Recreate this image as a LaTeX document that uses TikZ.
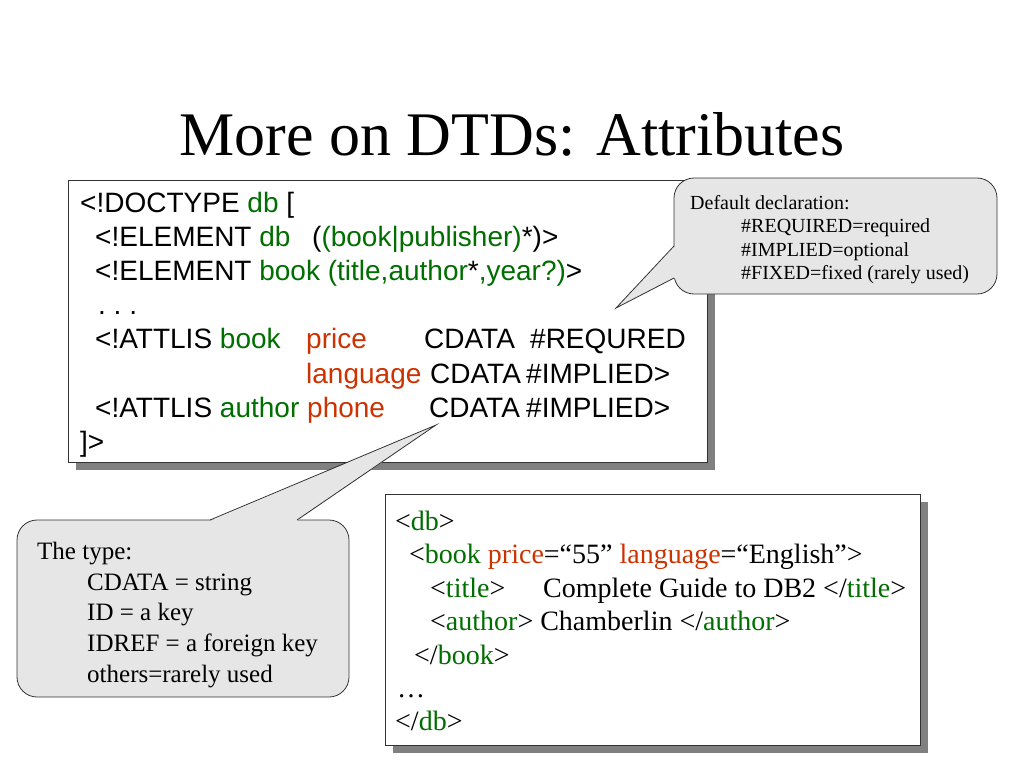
\documentclass[tikz,border=0pt]{standalone}
\usepackage{fontspec}
\setmainfont{Liberation Serif}
\newfontfamily\codefont{Liberation Sans}
\usetikzlibrary{shadows}
\definecolor{dtdgreen}{RGB}{0,110,0}
\definecolor{dtdred}{RGB}{204,51,0}
\definecolor{bubble}{RGB}{230,230,230}
\newcommand\grn[1]{\textcolor{dtdgreen}{#1}}
\newcommand\orn[1]{\textcolor{dtdred}{#1}}

\begin{document}
\begin{tikzpicture}[x=1pt,y=-1pt,
		codebox/.style={draw=black!80,line width=0.8pt,fill=white,
			drop shadow={shadow xshift=8pt,shadow yshift=-8pt,fill=black!50,opacity=1}},
		bubbleshape/.style={draw=black!80,line width=0.8pt,fill=bubble,rounded corners=20pt},
		dtd/.style={anchor=base west,inner sep=0pt,font=\codefont\fontsize{28}{34}\selectfont},
		xml/.style={anchor=base west,inner sep=0pt,font=\fontsize{28}{33}\selectfont},
		defnote/.style={anchor=base west,inner sep=0pt,font=\fontsize{20}{24}\selectfont},
		typenote/.style={anchor=base west,inner sep=0pt,font=\fontsize{25}{30}\selectfont}]
			\useasboundingbox (0,0) rectangle (1024,768);

			% titre
			\node[anchor=base,inner sep=0pt,font=\fontsize{62}{70}\selectfont] (title) at (512,155) {More on DTDs: Attributes};

			% DTD
			\path[codebox] (68,180) rectangle (707,462);
			\node[dtd] (doctype) at (80,212) {<!DOCTYPE \grn{db} [};
			\node[dtd] (eldb) at (95,246) {<!ELEMENT \grn{db}};
			\node[dtd] (eldbcont) at (312,246) {(\grn{(book|publisher)}*)>};
			\node[dtd] (elbook) at (95,280) {<!ELEMENT \grn{book} \grn{(title,author}*\grn{,year?)}>};
			\node[dtd] (dots) at (98,314) {.\ .\ .};
			\node[dtd] (attbook) at (95,348) {<!ATTLIS \grn{book}};
			\node[dtd] (price) at (306,348) {\orn{price}};
			\node[dtd] (pricetype) at (424,348) {CDATA};
			\node[dtd] (pricedef) at (530,348) {\#REQURED};
			\node[dtd] (lang) at (306,383) {\orn{language}};
			\node[dtd] (langtype) at (430,383) {CDATA};
			\node[dtd] (langdef) at (526,383) {\#IMPLIED>};
			\node[dtd] (attauthor) at (95,417) {<!ATTLIS \grn{author}};
			\node[dtd] (phone) at (307,417) {\orn{phone}};
			\node[dtd] (phonetype) at (429,417) {CDATA};
			\node[dtd] (phonedef) at (526,417) {\#IMPLIED>};
			\node[dtd] (close) at (80,451) {]>};

			% Default declaration
			\filldraw[bubbleshape] (674,178) rectangle (997,294);
			\fill[bubble] (675,246) -- (616,308) -- (675,278) -- cycle;
			\draw[draw=black!80,line width=0.8pt] (674,246) -- (616,308) -- (674,278);
			\node[defnote] (defhead) at (690,209) {Default declaration:};
			\node[defnote] (defreq) at (741,232) {\#REQUIRED=required};
			\node[defnote] (defimp) at (741,256) {\#IMPLIED=optional};
			\node[defnote] (deffix) at (741,279) {\#FIXED=fixed (rarely used)};

			% XML
			\path[codebox] (385,494) rectangle (920,745);
			\node[xml] (xdb) at (395,530) {<\grn{db}>};
			\node[xml] (xbook) at (409,563) {<\grn{book} \orn{price}=“55” \orn{language}=“English”>};
			\node[xml] (xtitle) at (430,597) {<\grn{title}>};
			\node[xml] (xtitletext) at (543,597) {Complete Guide to DB2 </\grn{title}>};
			\node[xml] (xauthor) at (430,630) {<\grn{author}> Chamberlin </\grn{author}>};
			\node[xml] (xbookend) at (414,664) {</\grn{book}>};
			\node[xml] (xdots) at (397,697) {…};
			\node[xml] (xdbend) at (395,730) {</\grn{db}>};

			% The type
			\filldraw[bubbleshape] (17,520) rectangle (349,697);
			\fill[bubble] (210,521) -- (436,425) -- (297,521) -- cycle;
			\draw[draw=black!80,line width=0.8pt] (210,520) -- (436,425) -- (297,520);
			\node[typenote] (typehead) at (37,559) {The type:};
			\node[typenote] (tcdata) at (87,590) {CDATA = string};
			\node[typenote] (tid) at (87,620) {ID = a key};
			\node[typenote] (tidref) at (87,651) {IDREF = a foreign key};
			\node[typenote] (tothers) at (87,682) {others=rarely used};
		\end{tikzpicture}
\end{document}
